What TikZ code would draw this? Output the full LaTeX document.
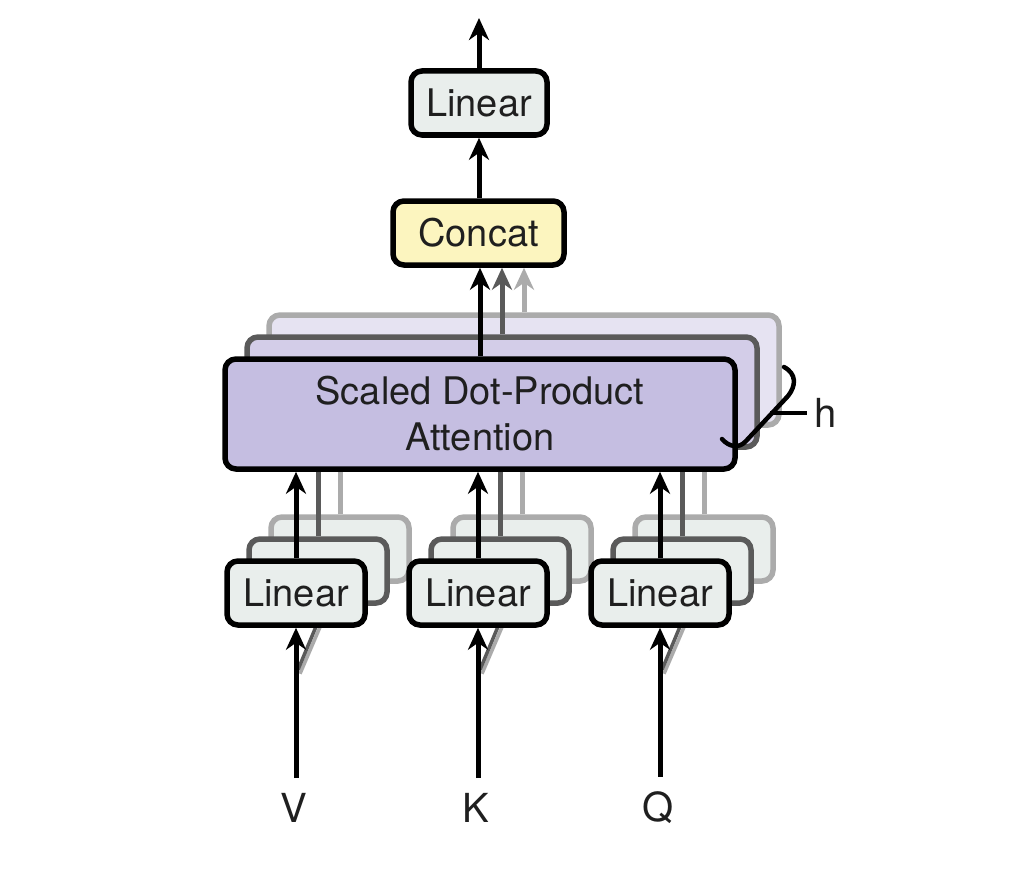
\documentclass[tikz,border=0pt]{standalone}
\usepackage{fontspec}
\setmainfont{TeX Gyre Heros}
\usetikzlibrary{arrows.meta,calc}
\definecolor{linfill}{HTML}{E9EEEC}
\definecolor{catfill}{HTML}{FCF5BF}
\definecolor{attfill}{HTML}{C5BEE1}
\definecolor{attfilltwo}{HTML}{D3CDE8}
\definecolor{attfillthree}{HTML}{E6E3F2}
\definecolor{darkline}{HTML}{5A5A5A}
\definecolor{lightline}{HTML}{ABABAB}
\tikzset{
  box/.style={draw, line width=5.5pt, rounded corners=11pt, inner sep=0pt, align=center,
    text=black!88, font=\fontsize{38}{46}\selectfont},
  linbox/.style={box, fill=linfill, minimum width=138pt, minimum height=64pt},
  catbox/.style={box, fill=catfill, minimum width=171pt, minimum height=64pt},
  attbox/.style={box, fill=attfill, minimum width=510pt, minimum height=110pt},
  backtwo/.style={draw=darkline, fill=#1},
  backthree/.style={draw=lightline, fill=#1},
  arr/.style={line width=5pt, -{Stealth[length=22pt,width=20pt,inset=7pt]}},
  feed/.style={line width=5pt, draw=#1},
  lbl/.style={inner sep=0pt, text=black!88, font=\fontsize{40}{46}\selectfont},
}
\begin{document}
\begin{tikzpicture}[x=1pt,y=-1pt]
\useasboundingbox[fill=white] (0,0) rectangle (1014,880);
% attention heads behind
\node[attbox, backthree=attfillthree] (sdpa3) at (524,370) {};
\node[attbox, backtwo=attfilltwo] (sdpa2) at (502,392) {};
% three linear projections
\foreach \nm/\txt/\x in {v/V/296, k/K/478, q/Q/660} {
  \node[linbox, backthree=linfill] (lin\nm3) at (\x+44,549) {};
  \node[linbox, backtwo=linfill] (lin\nm2) at (\x+22,571) {};
  \draw[feed=lightline] (lin\nm3.north) -- (lin\nm3.north |- sdpa2.south);
  \draw[feed=darkline] (lin\nm2.north) -- (lin\nm2.north |- sdpa2.south);
  \draw[line width=3.5pt, lightline] ($(lin\nm2.south)+(-18,68)$) -- ($(lin\nm2.south)+(6,12)$);
  \draw[line width=3.5pt, darkline] ($(lin\nm2.south)+(-20,64)$) -- ($(lin\nm2.south)+(0,16)$);
  \node[linbox] (lin\nm) at (\x,593) {Linear};
  \node[lbl] (\nm) at (\x-2,808) {\txt};
  \draw[arr, shorten <=15pt] (lin\nm.south |- \nm.north) -- (lin\nm.south);
}
\node[attbox] (sdpa) at (480,414) {Scaled Dot-Product\\Attention};
\foreach \nm in {v,k,q}
  \draw[arr] (lin\nm.north) -- (lin\nm.north |- sdpa.south);
% h heads brace
\draw[line width=4.5pt, line cap=round] (784,367) .. controls (797,374) and (796,386) .. (788,396)
  -- (746,441) .. controls (739,449) and (729,447) .. (722,439);
\coordinate (hmid) at (770,413);
\node[lbl] (hlbl) at (826,413) {h};
\draw[line width=3.5pt, shorten >=8pt] (hmid) -- (hlbl.west);
% concat and output
\node[catbox] (concat) at (478.5,233) {Concat};
\draw[arr, draw=lightline, -{Stealth[length=22pt,width=20pt,inset=7pt,fill=lightline]}] (sdpa3.north) -- (sdpa3.north |- concat.south);
\draw[arr, draw=darkline, -{Stealth[length=22pt,width=20pt,inset=7pt,fill=darkline]}] (sdpa2.north) -- (sdpa2.north |- concat.south);
\draw[arr] (sdpa.north) -- (sdpa.north |- concat.south);
\node[linbox, minimum width=136pt] (linout) at (479,103) {Linear};
\draw[arr] (concat.north -| linout.south) -- (linout.south);
\coordinate (out) at (479,18);
\draw[arr] (linout.north) -- (out);
\end{tikzpicture}
\end{document}
